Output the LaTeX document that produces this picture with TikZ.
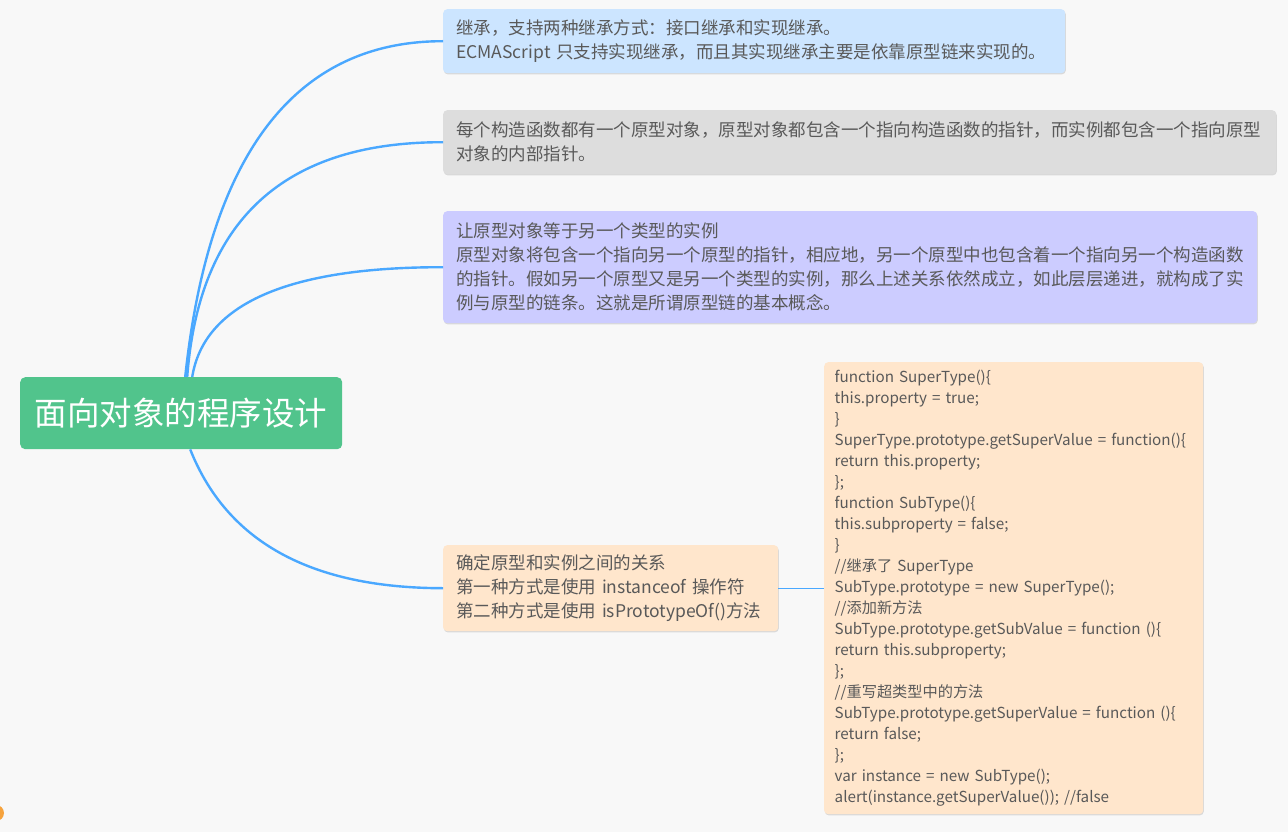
\documentclass[tikz,border=0pt]{standalone}
\usepackage{fontspec}
\setmainfont{Noto Sans CJK SC}
\usetikzlibrary{calc,shadows}
\definecolor{bg}{HTML}{F8F8F8}
\definecolor{rootc}{HTML}{51C48C}
\definecolor{lnk}{HTML}{4AA8FF}
\definecolor{txt}{HTML}{595959}
\definecolor{cblue}{HTML}{CCE5FF}
\definecolor{cgray}{HTML}{DDDDDD}
\definecolor{cviolet}{HTML}{CCCCFF}
\definecolor{cpeach}{HTML}{FFE6CC}
\definecolor{corange}{HTML}{F6A33E}
\begin{document}
\begin{tikzpicture}[x=1pt,y=-1pt,
  box/.style={rounded corners=4pt, anchor=north west, inner xsep=13pt, inner ysep=0pt,
    align=left, text=txt, font={\fontsize{17.5}{24}\selectfont\hyphenpenalty=10000},
    drop shadow={shadow xshift=0.6pt, shadow yshift=-1.2pt, fill=black, opacity=0.12}},
  codebox/.style={box, inner xsep=10.5pt, font={\fontsize{15.2}{21}\selectfont\hyphenpenalty=10000}},
  rootbox/.style={rounded corners=5pt, fill=rootc, text=white, anchor=north west,
    minimum width=322pt, minimum height=72pt, inner sep=0pt, font={\fontsize{32.5}{38}\selectfont}},
  con/.style={draw=lnk, line width=2.4pt},
  thin/.style={draw=lnk, line width=1.2pt}]
\useasboundingbox[fill=bg] (0,0) rectangle (1288,832);

\node[rootbox] (root) at (20,377) {面向对象的程序设计};

\node[box, fill=cblue, minimum height=64pt, text width=596pt] (b1) at (443,9)
 {继承，支持两种继承方式：接口继承和实现继承。\\ECMAScript 只支持实现继承，而且其实现继承主要是依靠原型链来实现的。};

\node[box, fill=cgray, minimum height=64pt, text width=807pt] (b2) at (443,110)
 {每个构造函数都有一个原型对象，原型对象都包含一个指向构造函数的指针，而实例都包含一个指向原型\\对象的内部指针。};

\node[box, fill=cviolet, minimum height=112pt, text width=788pt] (b3) at (443,211)
 {让原型对象等于另一个类型的实例\\原型对象将包含一个指向另一个原型的指针，相应地，另一个原型中也包含着一个指向另一个构造函数\\的指针。假如另一个原型又是另一个类型的实例，那么上述关系依然成立，如此层层递进，就构成了实\\例与原型的链条。这就是所谓原型链的基本概念。};

\node[box, fill=cpeach, minimum height=86pt, text width=309pt] (b4) at (443,545)
 {确定原型和实例之间的关系\\第一种方式是使用 instanceof 操作符\\第二种方式是使用 isPrototypeOf()方法};

\node[codebox, fill=cpeach, minimum height=452pt, text width=358pt] (code) at (824,362)
 {function SuperType()\{\\
this.property = true;\\
\}\\
SuperType.prototype.getSuperValue~=~function()\{\\
return this.property;\\
\};\\
function SubType()\{\\
this.subproperty = false;\\
\}\\
//继承了 SuperType\\
SubType.prototype = new SuperType();\\
//添加新方法\\
SubType.prototype.getSubValue = function ()\{\\
return this.subproperty;\\
\};\\
//重写超类型中的方法\\
SubType.prototype.getSuperValue~=~function~()\{\\
return false;\\
\};\\
var instance = new SubType();\\
alert(instance.getSuperValue()); //false};

\draw[con] ([xshift=4pt]root.north) .. controls (209,153) and (296,41) .. (b1.west);
\draw[con] ([xshift=6pt]root.north) .. controls (199,220) and (284,142) .. (b2.west);
\draw[con] ([xshift=11pt]root.north) .. controls (204,304) and (288,267) .. (b3.west);
\draw[con] ([xshift=9pt]root.south) .. controls (227,542) and (311,588) .. (b4.west);
\draw[thin] (b4.east) -- (code.west);

\fill[corange] (-4,813) circle (8);
\end{tikzpicture}
\end{document}
